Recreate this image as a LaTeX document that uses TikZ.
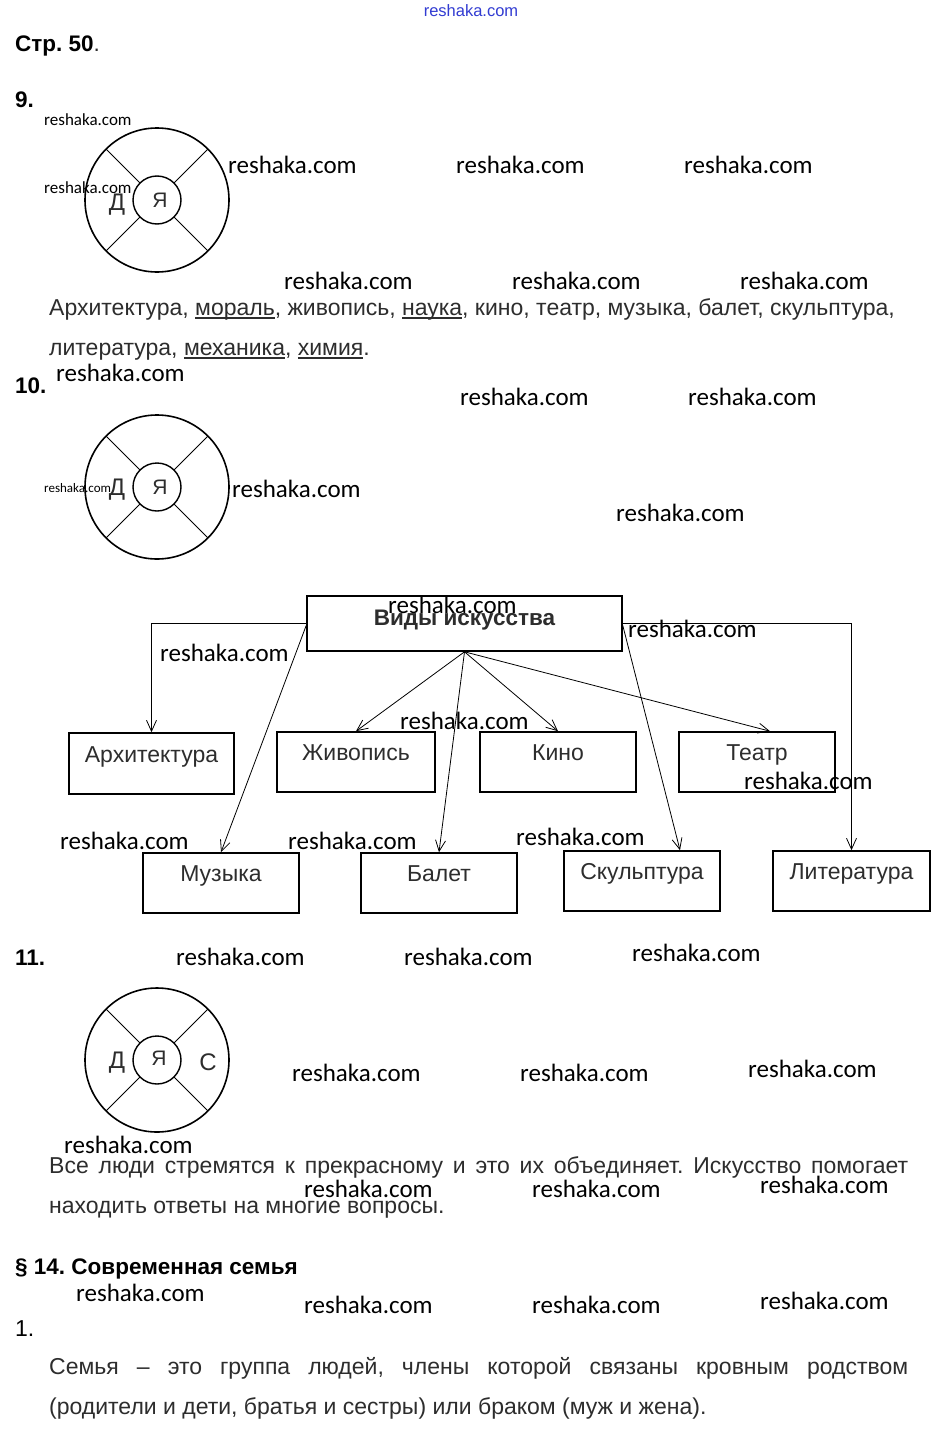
\documentclass[tikz,border=0pt]{standalone}
\usepackage{fontspec}
\setmainfont{Liberation Sans}
\newfontfamily\wmfont{Carlito}
\usetikzlibrary{arrows.meta}
\definecolor{txt}{RGB}{45,45,45}
\definecolor{wmblue}{RGB}{50,60,210}
\newcommand\myul[1]{\leavevmode\setbox0=\hbox{#1}\rlap{\rule[-3.5pt]{\wd0}{1.3pt}}\box0}
\frenchspacing
\begin{document}
\begin{tikzpicture}[x=1pt,y=-1pt,
  wm/.style={font=\wmfont\fontsize{25}{25}\selectfont, anchor=base west, inner sep=0pt},
  wms/.style={font=\wmfont\fontsize{17}{17}\selectfont, anchor=base west, inner sep=0pt},
  body/.style={font=\fontsize{23}{26}\selectfont, text=txt, anchor=base west, inner sep=0pt},
  head/.style={font=\bfseries\fontsize{22.5}{26}\selectfont, anchor=base west, inner sep=0pt},
  letter/.style={font=\fontsize{24}{26}\selectfont, text=txt, inner sep=0pt},
  artbox/.style={draw, line width=1.6pt, minimum width=156pt, minimum height=60pt, inner sep=0pt,
     font=\fontsize{23}{26}\selectfont, text=txt, text height=15pt, text depth=18pt},
  arr/.style={-{Straight Barb[length=11pt,width=10pt]}, line width=0.8pt}
]
\useasboundingbox (0,0) rectangle (939,1429);
\fill[white] (0,0) rectangle (939,1429);

% top watermark
\node[font=\fontsize{16.5}{16.5}\selectfont, text=wmblue, inner sep=0pt] (wtop) at (471,11) {reshaka.com};

% headings
\node[head] (h50) at (15,52) {Стр. 50\textmd{\textcolor{txt}{.}}};
\node[head] (h9) at (15,107) {9.};
\node[head] (h10) at (15,393) {10.};
\node[head] (h11) at (15,965) {11.};
\node[head] (h14) at (15,1274) {§ 14. Современная семья};
\node[body, text=black] (h1) at (15,1336) {1.};

% circles
\foreach \cy/\nm in {200/ca,487/cb,1060/cc}{
  \coordinate (\nm) at (157,\cy);
  \draw[line width=1.6pt] (\nm) circle[radius=72pt];
  \draw[line width=1.4pt] (\nm) circle[radius=24pt];
  \foreach \a in {45,135,225,315}
    \draw[line width=0.8pt] ([shift={(\a:24)}]\nm) -- ([shift={(\a:72)}]\nm);
}
\node[letter] (da) at (117,205) {Д};
\node[letter, font=\fontsize{21}{24}\selectfont] (ya) at (160,200) {Я};
\node[letter] (db) at (117,490) {Д};
\node[letter, font=\fontsize{21}{24}\selectfont] (yb) at (160,487) {Я};
\node[letter] (dc) at (117,1063) {Д};
\node[letter, font=\fontsize{21}{24}\selectfont] (yc) at (159,1058) {Я};
\node[letter] (sc) at (208,1062) {С};

% paragraph 9
\node[body] (p9a) at (49,315) {Архитектура, \myul{мораль}, живопись, \myul{наука}, кино, театр, музыка, балет, скульптура,};
\node[body] (p9b) at (49,355) {литература, \myul{механика}, \myul{химия}.};

% diagram
\node[artbox, font=\bfseries\fontsize{22.5}{26}\selectfont, minimum width=315pt, minimum height=55pt, text depth=12pt] (top) at (464.5,623.5) {Виды искусства};
\node[artbox, minimum width=165pt, minimum height=61pt] (arch) at (151.5,763.5) {Архитектура};
\node[artbox, minimum width=158pt] (zhiv) at (356,762) {Живопись};
\node[artbox] (kino) at (558,762) {Кино};
\node[artbox] (teatr) at (757,762) {Театр};
\node[artbox] (muz) at (221,883) {Музыка};
\node[artbox] (balet) at (439,883) {Балет};
\node[artbox] (skul) at (642,881) {Скульптура};
\node[artbox, minimum width=157pt] (lit) at (851.5,881) {Литература};

\draw[arr] (top.west) -| (arch.north);
\draw[arr] (top.east) -| (lit.north);
\draw[arr] ([yshift=-2]top.west) -- (muz.north);
\draw[arr] ([yshift=-2]top.east) -- ([xshift=38]skul.north);
\draw[arr] (top.south) -- (zhiv.north);
\draw[arr] (top.south) -- (kino.north);
\draw[arr] (top.south) -- ([xshift=13]teatr.north);
\draw[arr] (top.south) -- (balet.north);

% paragraph 11
\node[body] (p11a) at (49,1173) {\makebox[859pt][s]{Все люди стремятся к прекрасному и это их объединяет. Искусство помогает}};
\node[body] (p11b) at (49,1213) {находить ответы на многие вопросы.};

% paragraph 14.1
\node[body] (p14a) at (49,1374) {\makebox[859pt][s]{Семья – это группа людей, члены которой связаны кровным родством}};
\node[body] (p14b) at (49,1414) {(родители и дети, братья и сестры) или браком (муж и жена).};

% watermarks
\node[wms] (ws1) at (44,125) {reshaka.com};
\node[wms] (ws2) at (44,193) {reshaka.com};
\node[wms, font=\wmfont\fontsize{13}{13}\selectfont] (ws3) at (44,492) {reshaka.com};
\foreach \x/\y [count=\i] in {228/165,456/165,684/165,284/281,512/281,740/281,56/373,460/397,688/397,
  232/489,616/513,388/605,628/629,160/653,400/721,744/781,60/841,288/841,516/837,
  176/957,404/957,632/953,292/1073,520/1073,748/1069,64/1145,304/1189,532/1189,760/1185,
  76/1293,304/1305,532/1305,760/1301}
  \node[wm] (w\i) at (\x,\y+8) {reshaka.com};
\end{tikzpicture}
\end{document}
